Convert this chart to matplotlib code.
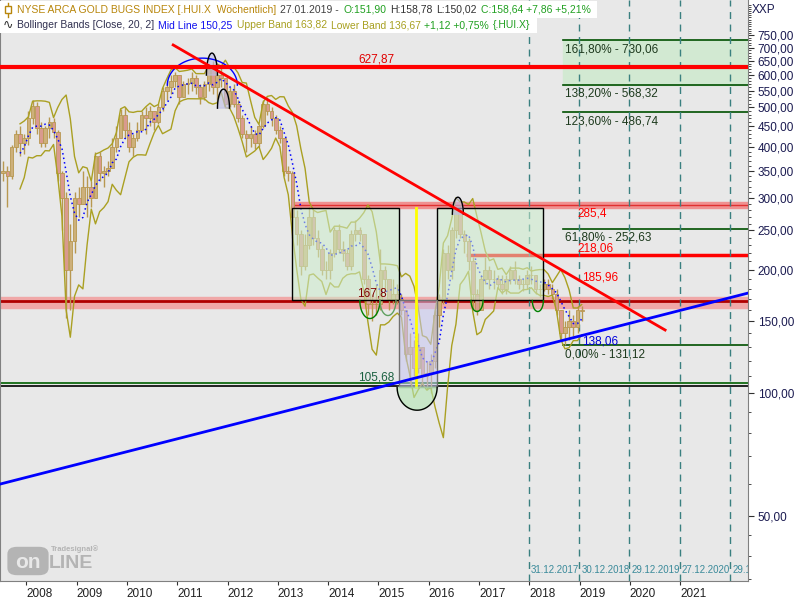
import numpy as np
import pandas as pd
import matplotlib
matplotlib.use("Agg")
import matplotlib.pyplot as plt
import matplotlib.transforms as mtrans
from matplotlib.patches import Rectangle, FancyBboxPatch
from matplotlib.ticker import NullFormatter

plt.rcParams["font.family"] = ["Liberation Sans", "DejaVu Sans"]

# ---- weekly chart read as monthly candles (Jul 2007 .. Jan 2019) ----
months = pd.date_range("2007-07-01", "2019-01-01", freq="MS")
first_open = 345
close = [350, 340, 400, 430, 410, 420,
         470, 505, 445, 410, 445, 460, 435, 345, 300, 200, 235, 300,
         290, 320, 320, 300, 380, 345, 350, 355, 400, 420, 480, 440,
         400, 420, 440, 480, 470, 490, 460, 500, 550, 560, 580, 600,
         530, 570, 575, 590, 560, 530, 570, 620, 560, 600, 590, 510,
         550, 510, 470, 430, 420, 430, 410, 450, 510, 490, 470, 440,
         420, 350, 345, 270, 245, 205, 230, 270, 240, 225, 200, 200,
         220, 250, 225, 220, 205, 245, 250, 245, 190, 165, 165, 165,
         200, 190, 170, 175, 170, 160, 125, 130, 115, 130, 110, 112,
         120, 155, 170, 220, 200, 250, 280, 245, 235, 210, 175, 160,
         190, 200, 190, 190, 185, 180, 190, 200, 190, 185, 185, 195,
         195, 180, 180, 185, 180, 175, 160, 140, 145, 150, 145, 160,
         158.64]
high = [370, 360, 405, 440, 450, 430,
        490, 520, 516, 460, 450, 475, 470, 440, 350, 310, 260, 310,
        320, 350, 340, 330, 390, 390, 360, 370, 420, 450, 495, 500,
        460, 430, 460, 490, 500, 505, 490, 510, 560, 580, 600, 610,
        600, 580, 590, 610, 600, 570, 580, 640, 650, 610, 630, 590,
        560, 570, 520, 480, 440, 450, 440, 455, 520, 530, 500, 480,
        450, 420, 360, 350, 280, 250, 245, 285, 280, 250, 230, 210,
        225, 255, 260, 235, 225, 250, 265, 255, 245, 195, 175, 185,
        225, 205, 190, 190, 185, 175, 160, 140, 135, 140, 130, 120,
        125, 160, 175, 225, 230, 255, 285, 288, 250, 240, 215, 180,
        195, 215, 205, 200, 195, 195, 195, 205, 210, 195, 190, 200,
        205, 195, 185, 190, 190, 185, 180, 160, 150, 160, 155, 163,
        163]
low = [330, 285, 335, 390, 380, 385,
       405, 455, 430, 400, 400, 420, 420, 330, 250, 153, 160, 220,
       270, 290, 270, 285, 300, 330, 320, 340, 360, 390, 420, 420,
       390, 380, 415, 440, 430, 450, 440, 455, 490, 520, 540, 560,
       510, 530, 540, 550, 540, 510, 520, 550, 540, 520, 560, 500,
       500, 500, 460, 420, 390, 400, 395, 400, 445, 480, 450, 430,
       410, 340, 330, 240, 230, 195, 200, 225, 230, 215, 195, 190,
       190, 215, 220, 210, 200, 200, 235, 235, 185, 155, 150, 155,
       160, 180, 160, 165, 165, 155, 120, 105, 110, 112, 105, 102,
       100, 115, 145, 165, 190, 190, 240, 240, 220, 200, 160, 155,
       160, 185, 180, 180, 180, 175, 175, 185, 185, 180, 178, 180,
       185, 175, 172, 178, 175, 170, 155, 135, 131, 135, 138, 140,
       150]

# ---- drawn levels / tools ----
red_level = 627.87
band_top = (283.5, 293.0, 288.0)       # low, high, line
band_mid = (161.5, 172.0, 168.5)
level_218 = 218.06
level_18596 = 185.96
level_13806 = 138.06
level_10568 = (105.68, 104.0)
fib_levels = [730.06, 568.32, 486.74, 252.63, 131.12]
fib_labels = ["161,80% - 730,06", "138,20% - 568,32", "123,60% - 486,74",
              "61,80% - 252,63", "0,00% - 131,12"]
red_trend_x = [2010.92, 2020.70]
red_trend_y = [711, 142.7]
blue_trend_x = [2007.477, 2022.348]
blue_trend_y = [59.9, 175.7]
box1_x = [2013.28, 2015.41]
box2_x = [2016.16, 2018.27]
box_y = [169, 283.7]
lav_x = [2015.41, 2016.16]
lav_y = [103.4, 169]
yellow_x = 2015.75
dash_dates = ["31.12.2017", "30.12.2018", "29.12.2019", "27.12.2020", "29.12.2021"]
years = list(range(2008, 2022))
yt_major = [50, 100, 150, 200, 250, 300, 350, 400, 450, 500, 550, 600, 650, 700, 750]

fig = plt.figure(figsize=(8, 6), dpi=100)
ax = fig.add_axes([0, 19 / 600, 748 / 800, 581 / 600])
ax.set_facecolor("#e8e8e8")
ax.set_yscale("log")
ax.set_xlim(2007.477, 2022.348)
ax.set_ylim(34.7, 916)

xs = months.year + (months.month - 0.5) / 12
close = np.array(close, float)
opens = np.r_[first_open, close[:-1]]
hi = np.maximum(np.array(high, float), np.maximum(opens, close))
lo = np.minimum(np.array(low, float), np.minimum(opens, close))

# background bands and lines
x_end = 2022.348
ax.fill_between([2018.67, x_end], 568.32, 730.06, color="#d2e9d2", zorder=1)
ax.fill_between([2013.30, x_end], band_top[0], band_top[1], color="#f09090", zorder=1)
ax.plot([2013.30, x_end], [band_top[2]] * 2, color="#e03030", lw=1, zorder=1.5)
ax.fill_between([2007.4, x_end], band_mid[0], band_mid[1], color="#f0a8a8", zorder=1)
ax.plot([2007.4, x_end], [band_mid[2]] * 2, color="#b00000", lw=2, zorder=1.5)
ax.axhline(level_10568[0], color="#006000", lw=1.2, zorder=1.5)
ax.axhline(level_10568[1], color="#000000", lw=1.2, zorder=1.5)
for lv in fib_levels:
    ax.plot([2018.67, x_end], [lv, lv], color="#005000", lw=1.2, zorder=1.5)
ax.plot([2016.78, x_end], [level_218] * 2, color="#ff0000", lw=2.5, zorder=1.5)

# year-end dashed verticals
dash_x = [pd.to_datetime(d, format="%d.%m.%Y") for d in dash_dates]
dash_x = [d.year + (d.dayofyear - 1) / 365 for d in dash_x]
trans_b = mtrans.blended_transform_factory(ax.transData, ax.transAxes)
for dx, lab in zip(dash_x, dash_dates):
    ax.axvline(dx, color="#3a8080", lw=1, ls=(0, (5, 4)), zorder=1.6)
    ax.annotate(lab, (dx, 0.019), xycoords=trans_b, xytext=(2, 0),
                textcoords="offset pixels", color="#3a8a9a", fontsize=7,
                va="center", ha="left", annotation_clip=False, clip_on=True)

# candles
up = close >= opens
ax.vlines(xs, lo, hi, color="#b89850", lw=1, zorder=3)
ax.bar(xs[up], close[up] - opens[up], 0.072, bottom=opens[up],
       color="#cdb07a", edgecolor="#b89850", lw=0.6, zorder=3.1)
ax.bar(xs[~up], opens[~up] - close[~up], 0.072, bottom=close[~up],
       color="#d99a8e", edgecolor="#b89850", lw=0.6, zorder=3.1)

# Bollinger bands (20 weeks ~ 5 months)
s = pd.Series(close)
mid = s.rolling(5).mean()
sd = s.rolling(5).std(ddof=0)
ax.plot(xs, mid + 2 * sd, color="#aaa022", lw=1, zorder=3.5)
ax.plot(xs, mid - 2 * sd, color="#aaa022", lw=1, zorder=3.5)
ax.plot(xs, mid, color="#0000ff", lw=1.1, ls=(0, (1, 2)), zorder=3.6)

# boxes
for bx in (box1_x, box2_x):
    ax.add_patch(Rectangle((bx[0], box_y[0]), bx[1] - bx[0], box_y[1] - box_y[0],
                           facecolor=(0.8, 0.93, 0.8, 0.55), edgecolor="black", lw=1, zorder=4))
ax.add_patch(Rectangle((lav_x[0], lav_y[0]), lav_x[1] - lav_x[0], lav_y[1] - lav_y[0],
                       facecolor=(0.78, 0.78, 0.94, 0.55), edgecolor="#707070", lw=1, zorder=4))
ax.plot([yellow_x] * 2, [lav_y[0], box_y[1]], color="#ffff00", lw=2, zorder=4.2)

# trend lines
ax.plot(red_trend_x, red_trend_y, color="#ff0000", lw=2, zorder=5)
ax.plot(blue_trend_x, blue_trend_y, color="#0000ff", lw=2, zorder=5)
ax.axhline(red_level, color="#ff0000", lw=3, zorder=5)

# marker arcs (centre in data, radii in pixels)
def arc(xc, yc, rx, ry, upper, color, fill=None):
    c = ax.transData.transform((xc, yc))
    t = np.linspace(0, np.pi, 60) if upper else np.linspace(np.pi, 2 * np.pi, 60)
    pts = np.column_stack([c[0] + rx * np.cos(t), c[1] + ry * np.sin(t)])
    d = ax.transData.inverted().transform(pts)
    if fill:
        ax.fill(d[:, 0], d[:, 1], color=fill, zorder=4.5)
    ax.plot(d[:, 0], d[:, 1], color=color, lw=1, zorder=4.6)

arc(2011.50, 567, 35, 27, True, "#0000ff")
arc(2011.69, 600, 5.5, 22, True, "black", (0.75, 0.75, 0.9, 0.6))
arc(2011.92, 498, 6, 19, True, "black", (0.75, 0.75, 0.9, 0.6))
arc(2016.58, 274, 5.5, 17, True, "black", (0.75, 0.75, 0.9, 0.6))
arc(2014.83, 168.5, 10, 18, False, "#008000")
arc(2015.19, 168.5, 8, 15, False, "#60a060")
arc(2016.96, 168.5, 6, 11, False, "#008000")
arc(2018.17, 168.5, 5.5, 11, False, "#008000")
arc(2015.77, 103.4, 20, 23, False, "black", (0.7, 0.9, 0.7, 0.6))

# labels
def lab(x, y, txt, color, dy, dx=0):
    ax.annotate(txt, (x, y), xytext=(dx, dy), textcoords="offset pixels",
                color=color, fontsize=8.5, va="center", ha="left", zorder=7)

lab(2014.60, red_level, "627,87", "#e00000", 8)
lab(2018.95, band_top[2], "285,4", "#ff0000", -8)
lab(2018.95, level_218, "218,06", "#ff0000", 6)
lab(2019.05, level_18596, "185,96", "#ff0000", 6)
lab(2019.05, level_13806, "138,06", "#0000dd", -6)
lab(2014.60, level_10568[0], "105,68", "#1a6040", 6)
lab(2014.58, band_mid[2], "167,8", "#800000", 7)
for lv, t in zip(fib_levels, fib_labels):
    lab(2018.67, lv, t, "#1e3a1e", -9, 2)

# axes styling
ax.yaxis.tick_right()
ax.set_yticks(yt_major, [f"{v},00" for v in yt_major])
minor = [35, 40, 45, 60, 70, 80, 90] + [v for v in range(110, 900, 10) if v not in yt_major]
ax.set_yticks(minor, minor=True)
ax.yaxis.set_minor_formatter(NullFormatter())
ax.tick_params(axis="y", which="major", direction="out", length=4, pad=3,
               labelsize=8.5, labelcolor="#1a1a50", color="#303030")
ax.tick_params(axis="y", which="minor", direction="out", length=2, color="#303030")
ax.set_xticks(years, [str(y) for y in years])
ax.tick_params(axis="x", direction="out", length=3, pad=2, labelsize=8.5,
               labelcolor="#202020", color="#303030")
for t in ax.get_xticklabels():
    t.set_ha("left")
ax.xaxis.set_minor_locator(plt.NullLocator())
for sp in ("left", "bottom", "right"):
    ax.spines[sp].set_color("#808080")
ax.spines["top"].set_visible(False)

# header
def fx(px):
    return px / 800

def fy(py):
    return 1 - py / 600

renderer = fig.canvas.get_renderer()

def header_line(segs, yc, top, h):
    x = 17
    for t, c in segs:
        txt = fig.text(fx(x), fy(yc), t, color=c, fontsize=7.5, va="center",
                       ha="left", zorder=6)
        x = txt.get_window_extent(renderer).x1 + 4
    fig.patches.append(Rectangle((0, fy(top + h)), fx(x + 2), h / 600,
                                 transform=fig.transFigure, facecolor="white",
                                 edgecolor="none", zorder=5))

line1 = [("NYSE ARCA GOLD BUGS INDEX [.HUI.X  Wöchentlich]", "#b8860b"),
         ("27.01.2019 -", "#404040"), ("O:151,90", "#20a020"),
         ("H:158,78", "#303030"), ("L:150,02", "#303030"),
         ("C:158,64 +7,86 +5,21%", "#20a020")]
line2 = [("Bollinger Bands [Close, 20, 2]", "#303050"),
         ("Mid Line 150,25", "#1010ee"), ("Upper Band 163,82", "#a8a020"),
         ("Lower Band 136,67", "#a8a020"), ("+1,12 +0,75%", "#20a020"),
         ("{.HUI.X}", "#20a020")]
header_line(line1, 10, 1, 17)
header_line(line2, 25, 18, 15)
fig.lines.append(plt.Line2D([fx(8), fx(8)], [fy(3), fy(17)], transform=fig.transFigure,
                            color="#b8860b", lw=1, zorder=6))
fig.patches.append(Rectangle((fx(5), fy(13)), 6 / 800, 7 / 600, transform=fig.transFigure,
                             facecolor="white", edgecolor="#b8860b", lw=1, zorder=6.5))
fig.text(fx(3), fy(25), "\u223f", fontsize=9, va="center", ha="left", color="#303030",
         family=["DejaVu Sans"], zorder=6)
fig.text(fx(752), fy(10), "XXP", fontsize=8.5, va="center", ha="left", color="#1a1a50")

# watermark logo
fig.patches.append(FancyBboxPatch((fx(9), fy(574)), 38 / 800, 26 / 600,
                                  boxstyle="round,pad=0.002,rounding_size=0.012",
                                  transform=fig.transFigure, facecolor="#b4b4b4",
                                  edgecolor="none", zorder=2))
fig.text(fx(28), fy(562), "on", fontsize=15, fontweight="bold", color="#e8e8e8",
         va="center", ha="center", zorder=3)
fig.text(fx(49), fy(563), "LINE", fontsize=14, fontweight="bold", color="#b4b4b4",
         va="center", ha="left", zorder=3)
fig.text(fx(51), fy(549), "Tradesignal\u00ae", fontsize=5.5, fontweight="bold",
         color="#b4b4b4", va="center", ha="left", zorder=3)

fig.savefig("out.png", dpi=100)
